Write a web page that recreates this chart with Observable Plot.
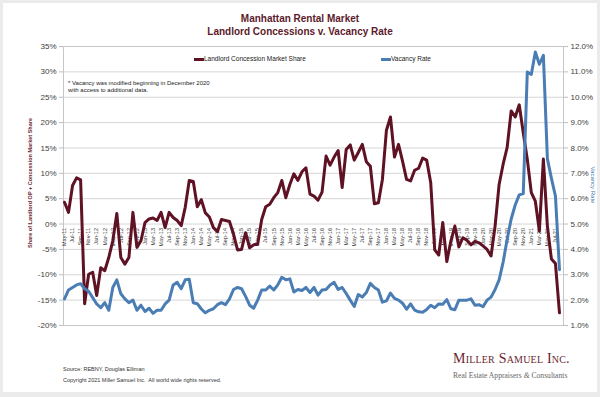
<!DOCTYPE html>
<html><head><meta charset="utf-8">
<script src="https://cdn.jsdelivr.net/npm/d3@7"></script>
<script src="https://cdn.jsdelivr.net/npm/@observablehq/plot@0.6"></script>
<style>
html,body{margin:0;padding:0;}
body{width:600px;height:397px;background:#ebebeb;position:relative;overflow:hidden;font-family:"Liberation Sans",Arial,sans-serif;}
#panel{position:absolute;left:3px;top:3px;right:3px;bottom:5px;background:#fff;}
#chart{position:absolute;left:0;top:0;}
.t{position:absolute;white-space:nowrap;}
.rot{position:absolute;white-space:nowrap;transform:translate(-50%,-50%) rotate(-90deg);}
.sw{position:absolute;height:3px;width:10px;}
</style></head><body>
<div id="panel"></div>
<div id="chart"></div>
<div class="t" style="left:0;width:600px;top:12px;text-align:center;font-weight:bold;font-size:10px;line-height:13px;color:#5c1a2b">Manhattan Rental Market<br>Landlord Concessions v. Vacancy Rate</div>
<div id="legend"></div>
<div class="t" style="left:68px;top:80px;font-size:6px;line-height:6.5px;color:#222">* Vacancy was modified beginning in December 2020<br>with access to additional data.</div>
<div class="rot" style="left:30px;top:183px;font-size:5.5px;font-weight:bold;color:#6b1f30">Share of Landlord OP + Concession Market Share</div>
<div class="rot" style="left:593px;top:185px;font-size:6px;color:#4a7db4;transform:translate(-50%,-50%) rotate(90deg)">Vacancy Rate</div>
<div class="t" style="left:63px;top:364px;font-size:5.5px;line-height:11px;color:#333">Source: REBNY, Douglas Elliman<br>Copyright 2021 Miller Samuel Inc.&nbsp; All world wide rights reserved.</div>
<div class="t" style="left:453px;top:351px;font-family:'Liberation Serif','DejaVu Serif',serif;font-variant:small-caps;font-size:14px;color:#6b1f30;letter-spacing:0.2px">Miller Samuel Inc.</div>
<div class="t" style="left:453px;top:371px;font-family:'Liberation Serif','DejaVu Serif',serif;font-size:7.6px;color:#666">Real Estate Appraisers <i>&amp;</i> Consultants</div>
<script>
// Monthly, May-11 .. Aug-21
const startYear = 2011, startMonth = 4; // May (0-based)
const monthNames = ["Jan","Feb","Mar","Apr","May","Jun","Jul","Aug","Sep","Oct","Nov","Dec"];

const concession = [
 4.3, 2.3, 7.6, 9.1, 8.7, -15.7, -9.9, -9.5, -14.1, -8.6,
 -9.2, -6.6, -3.3, 2.1, -6.6, -7.9, -6.6, 2.3, -4.6, -3.3,
 0.3, 1.0, 1.2, 0.7, 2.3, -0.7, 2.3, 1.3, 0.7, -0.3,
 3.3, 8.6, 8.4, 3.4, 4.8, 2.2, 1.4, -0.7, -1.5, 0.9,
 0.7, 0.5, -2.0, -5.1, -5.0, -1.7, -4.7, -4.1, -4.0, 0.9,
 3.4, 3.9, 5.2, 6.2, 8.6, 5.2, 7.8, 9.9, 8.6, 10.3,
 11.1, 5.9, 5.5, 4.7, 6.3, 13.4, 11.6, 13.2, 14.5, 7.2,
 14.7, 15.6, 12.6, 14.1, 15.7, 12.3, 11.4, 4.0, 4.2, 8.8,
 18.5, 21.1, 13.2, 15.7, 12.4, 8.8, 8.5, 10.6, 11.0, 13.0,
 12.6, 8.2, -5.1, -6.1, 0.3, -7.4, -3.4, -0.4, -4.5, -2.7,
 -3.2, -4.1, -3.4, -3.7, -4.3, -5.0, -6.3, -0.4, 7.8, 11.8,
 15.1, 22.3, 21.1, 23.5, 18.0, 12.8, 6.2, 4.5, -1.4, 12.8,
 -0.5, -6.9, -7.8, -17.5
];

const vacancy = [
 2.05, 2.4, 2.5, 2.6, 2.65, 2.45, 2.35, 2.1, 1.85, 1.7,
 1.9, 1.6, 2.5, 2.8, 2.25, 2.05, 1.9, 2.0, 1.6, 1.8,
 1.55, 1.68, 1.48, 1.6, 1.6, 1.85, 2.0, 2.6, 2.7, 2.45,
 2.8, 2.82, 1.9, 1.86, 1.65, 1.5, 1.6, 1.66, 1.82, 1.9,
 1.82, 2.05, 2.42, 2.5, 2.45, 2.15, 1.8, 1.68, 2.0, 2.4,
 2.4, 2.55, 2.4, 2.6, 2.9, 2.8, 2.84, 2.32, 2.42, 2.38,
 2.5, 2.3, 2.5, 2.2, 2.4, 2.42, 2.6, 2.7, 2.42, 2.5,
 2.26, 2.0, 1.75, 2.22, 2.12, 2.3, 2.66, 2.5, 2.4, 1.92,
 1.97, 2.28, 2.07, 2.0, 1.88, 1.64, 1.85, 1.61, 1.54, 1.52,
 1.63, 1.8, 1.7, 1.85, 1.84, 2.02, 1.66, 1.62, 2.0, 2.0,
 2.0, 2.05, 1.8, 1.82, 1.74, 2.0, 2.12, 2.42, 2.8, 3.5,
 4.4, 5.2, 5.75, 6.15, 6.2, 10.99, 10.9, 11.78, 11.3, 11.65,
 7.57, 6.8, 6.1, 3.2
];

const seriesNames = ["Landlord Concession Market Share", "Vacancy Rate"];
const seriesColors = ["#5e1224", "#4a7db4"];
const leftTicks = [-20, -15, -10, -5, 0, 5, 10, 15, 20, 25, 30, 35];
const rightTicks = [1, 2, 3, 4, 5, 6, 7, 8, 9, 10, 11, 12];

const months = concession.map((_, i) => {
  const m = (startMonth + i) % 12, y = startYear + Math.floor((startMonth + i) / 12);
  return monthNames[m] + "-" + String(y % 100).padStart(2, "0");
});
const idx = concession.map((_, i) => i);
const labelIdx = idx.filter(i => i % 2 === 0);

// map vacancy (right axis, 1%..12%) onto left axis (-20..35)
const vToL = v => (v - 1) * 5 - 20;
const lToV = l => (l + 20) / 5 + 1;

const chart = Plot.plot({
  width: 600, height: 397,
  marginLeft: 63, marginRight: 37, marginTop: 46, marginBottom: 72,
  x: {domain: [-0.25, 124], axis: null},
  y: {domain: [-20, 35], axis: null},
  style: {background: "transparent", fontFamily: "Liberation Sans, Arial, sans-serif", overflow: "visible"},
  marks: [
    Plot.gridY(leftTicks, {stroke: "#d6d6d6", strokeOpacity: 1}),
    Plot.frame({stroke: "#c6c6c6"}),
    Plot.axisY(leftTicks, {anchor: "left", tickSize: 4, tickPadding: 3, tickFormat: d => d + "%", fontSize: 8, stroke: "#bdbdbd", fill: "#404040"}),
    Plot.axisY(rightTicks.map(vToL), {anchor: "right", tickSize: 4, tickPadding: 3, tickFormat: d => lToV(d).toFixed(1) + "%", fontSize: 8, stroke: "#bdbdbd", fill: "#404040"}),
    Plot.text(labelIdx, {x: d => d, y: () => 0, text: d => months[d], rotate: -90, textAnchor: "end", lineAnchor: "middle", dy: 4, fontSize: 5.5, fill: "#333"}),
    Plot.line(idx, {x: i => i, y: i => concession[i], stroke: seriesColors[0], strokeWidth: 3, strokeLinejoin: "round", strokeLinecap: "round"}),
    Plot.line(idx, {x: i => i, y: i => vToL(vacancy[i]), stroke: seriesColors[1], strokeWidth: 3, strokeLinejoin: "round", strokeLinecap: "round"})
  ]
});
document.getElementById("chart").appendChild(chart);

// legend
const legend = document.getElementById("legend");
const legendPos = [194, 381];
seriesNames.forEach((name, k) => {
  const sw = document.createElement("div");
  sw.className = "sw";
  sw.style.left = legendPos[k] + "px"; sw.style.top = "58px"; sw.style.background = seriesColors[k];
  legend.appendChild(sw);
  const tx = document.createElement("div");
  tx.className = "t";
  tx.style.cssText = `left:${legendPos[k] + 10}px;top:55px;font-size:6.5px;line-height:8px;color:#222`;
  tx.textContent = name;
  legend.appendChild(tx);
});
</script>
</body></html>
